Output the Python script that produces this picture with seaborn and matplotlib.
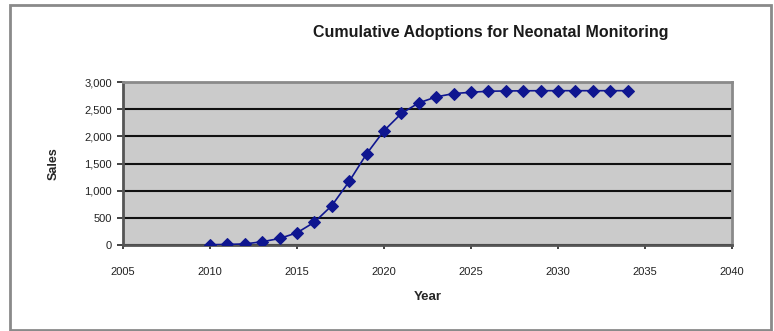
import matplotlib
matplotlib.use("Agg")
import matplotlib.pyplot as plt
import seaborn as sns
import pandas as pd
from matplotlib.patches import Rectangle
from matplotlib.ticker import FuncFormatter

years = [2010, 2011, 2012, 2013, 2014, 2015, 2016, 2017, 2018, 2019, 2020, 2021,
         2022, 2023, 2024, 2025, 2026, 2027, 2028, 2029, 2030, 2031, 2032, 2033, 2034]
sales = [5, 10, 20, 60, 120, 225, 420, 725, 1170, 1677, 2104, 2421,
         2616, 2726, 2787, 2811, 2830, 2835, 2838, 2840, 2840, 2840, 2840, 2840, 2840]
x_ticks = [2005, 2010, 2015, 2020, 2025, 2030, 2035, 2040]
y_ticks = [0, 500, 1000, 1500, 2000, 2500, 3000]

sns.set_style("white")
plt.rcParams['font.family'] = ['Liberation Sans', 'DejaVu Sans']

df = pd.DataFrame({"Year": years, "Sales": sales})

fig = plt.figure(figsize=(7.74, 3.31), dpi=100)
ax = fig.add_axes([123/774, 1-245/331, (732-123)/774, (245-82)/331])
ax.set_facecolor("#cbcbcb")

sns.lineplot(data=df, x="Year", y="Sales", ax=ax, color="#0f1690", marker="D",
             markersize=6.5, markeredgecolor="#0f1690", linewidth=1.2, zorder=5)

ax.set_xlim(2005, 2040)
ax.set_ylim(0, 3000)
ax.set_xticks(x_ticks)
ax.set_yticks(y_ticks)
ax.yaxis.set_major_formatter(FuncFormatter(lambda v, p: f"{int(v):,}"))
ax.grid(axis="y", color="#111111", linewidth=1.5, zorder=1)
ax.set_axisbelow(True)
ax.tick_params(axis="y", labelsize=8, colors="#222222", length=4, width=1.2,
               direction="out", pad=4)
ax.tick_params(axis="x", labelsize=8, colors="#222222", length=3, width=1.2,
               direction="out", pad=13)
ax.tick_params(left=True, bottom=True)
for side in ["top", "right"]:
    ax.spines[side].set_color("#8a8a8a")
    ax.spines[side].set_linewidth(2)
for side in ["left", "bottom"]:
    ax.spines[side].set_color("#555555")
    ax.spines[side].set_linewidth(2)

ax.set_xlabel("Year", fontsize=9.5, fontweight="bold", labelpad=10)
ax.set_ylabel("Sales", fontsize=9, fontweight="bold", labelpad=18)

fig.text(491/774, 1-33/331, "Cumulative Adoptions for Neonatal Monitoring",
         ha="center", va="center", fontsize=11.5, fontweight="bold", color="#1a1a1a")

fig.patches.append(Rectangle((10/774, 1/331), 761/774, 325/331, transform=fig.transFigure,
                             fill=False, edgecolor="#8a8a8a", linewidth=2))

fig.savefig("out.png", dpi=100)
